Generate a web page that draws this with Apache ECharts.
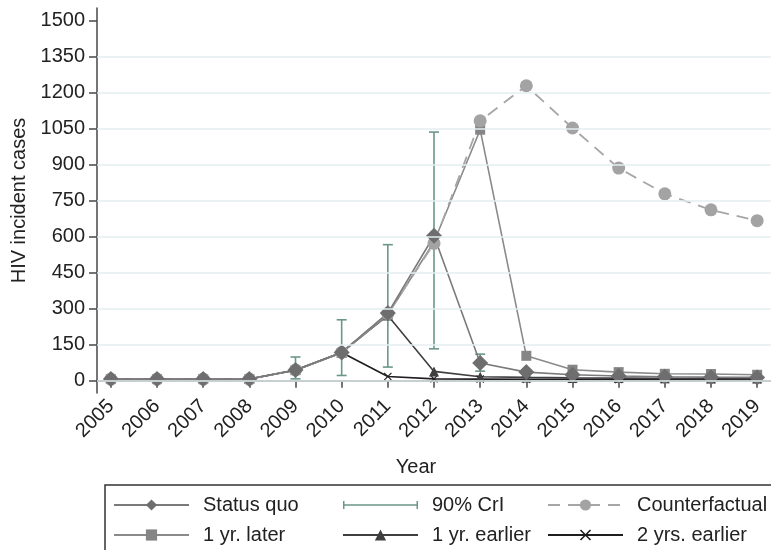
<!DOCTYPE html>
<html>
<head>
<meta charset="utf-8">
<script src="https://cdn.jsdelivr.net/npm/echarts@6/dist/echarts.min.js"></script>
<style>
html, body { margin: 0; padding: 0; background: #fff; }
#chart { width: 771px; height: 550px; }
</style>
</head>
<body>
<div id="chart"></div>
<script>
// data
var years = [2005, 2006, 2007, 2008, 2009, 2010, 2011, 2012, 2013, 2014, 2015, 2016, 2017, 2018, 2019];
var statusQuo      = [7, 7, 7, 7, 45, 118, 282, 604, 74, 36, 25, 20, 17, 15, 14];
var oneYrLater     = [7, 7, 7, 7, 44, 116, 276, 578, 1046, 104, 46, 36, 29, 28, 25];
var counterfactual = [7, 7, 7, 7, 45, 118, 280, 572, 1083, 1229, 1053, 886, 779, 712, 667];
var oneYrEarlier   = [7, 7, 7, 7, 45, 118, 272, 39, 17, 14, 12, 11, 10, 9, 9];
var twoYrsEarlier  = [7, 7, 7, 7, 44, 118, 18, 8, 7, 6, 6, 5, 5, 5, 5];

// 90% credible interval
var ciYears = [2009, 2010, 2011, 2012, 2013, 2014];
var ciLow   = [8, 22, 57, 133, 40, 15];
var ciHigh  = [99, 254, 567, 1036, 111, 45];

var yTicks = [0, 150, 300, 450, 600, 750, 900, 1050, 1200, 1350, 1500];
var gridVals = [0, 150, 300, 450, 600, 750, 900, 1050, 1200, 1350];

var font = '"Liberation Sans", Arial, sans-serif';
var ciColor = '#6b978a';
var axisColor = '#474747';

function pairs(vals) {
    return years.map(function (y, i) { return [y, vals[i]]; });
}

var myChart = echarts.init(document.getElementById('chart'));

var legendBase = {
    orient: 'vertical',
    top: 495,
    height: 80,
    padding: 0,
    itemWidth: 75,
    itemHeight: 14,
    itemGap: 10,
    textStyle: { fontSize: 20, fontFamily: font, color: '#222', padding: [0, 0, 0, 9], lineHeight: 20 }
};

// error bar icon: tiny corner dots keep the box 75x14 so the caps stay short
var ciIcon = 'path://M0,0h0.01v0.01h-0.01z M0,14h0.01v-0.01h-0.01z ' +
    'M0,3h1.5v8h-1.5z M0,6.25h75v1.5h-75z M73.5,3h1.5v8h-1.5z';

var option = {
    animation: false,
    textStyle: { fontFamily: font },
    grid: { left: 97, right: -12, top: 8, bottom: 157 },
    legend: [
        Object.assign({}, legendBase, { left: 113, data: ['Status quo', '1 yr. later'] }),
        Object.assign({}, legendBase, {
            left: 342,
            data: [{ name: '90% CrI', icon: ciIcon }, '1 yr. earlier']
        }),
        Object.assign({}, legendBase, { left: 547, data: ['Counterfactual', '2 yrs. earlier'] })
    ],
    graphic: [{
        type: 'rect',
        shape: { x: 105, y: 485, width: 700, height: 100 },
        style: { fill: 'none', stroke: '#333', lineWidth: 1.5 },
        silent: true
    }],
    xAxis: {
        type: 'value',
        min: 2004.7,
        max: 2019.3,
        name: 'Year',
        nameLocation: 'middle',
        nameGap: 64,
        nameTextStyle: { fontSize: 20, color: '#222', padding: [0, 36, 0, 0] },
        axisLine: { lineStyle: { color: axisColor, width: 1.5 } },
        axisTick: { customValues: years, length: 7, lineStyle: { color: axisColor, width: 1.5 } },
        axisLabel: {
            customValues: years,
            rotate: 45,
            fontSize: 20,
            color: '#222',
            margin: 10,
            formatter: function (v) { return String(v); }
        },
        splitLine: { show: false }
    },
    yAxis: {
        type: 'value',
        min: -51,
        max: 1553,
        name: 'HIV incident cases',
        nameLocation: 'middle',
        nameGap: 64,
        nameTextStyle: { fontSize: 20, color: '#222' },
        axisLine: { show: true, lineStyle: { color: axisColor, width: 1.5 } },
        axisTick: { show: true, customValues: yTicks, length: 8, lineStyle: { color: axisColor, width: 1.5 } },
        axisLabel: {
            customValues: yTicks,
            fontSize: 20,
            color: '#222',
            margin: 12,
            formatter: function (v) { return String(v); }
        },
        splitLine: { show: false }
    },
    series: [
        {
            name: '90% CrI',
            type: 'custom',
            z: 1,
            itemStyle: { color: ciColor },
            encode: { x: 0, y: [1, 2] },
            data: ciYears.map(function (y, i) { return [y, ciLow[i], ciHigh[i]]; }),
            renderItem: function (params, api) {
                var lo = api.coord([api.value(0), api.value(1)]);
                var hi = api.coord([api.value(0), api.value(2)]);
                var hw = 5;
                var st = { stroke: ciColor, lineWidth: 1.6 };
                return {
                    type: 'group',
                    children: [
                        { type: 'line', shape: { x1: lo[0], y1: lo[1], x2: hi[0], y2: hi[1] }, style: st },
                        { type: 'line', shape: { x1: lo[0] - hw, y1: lo[1], x2: lo[0] + hw, y2: lo[1] }, style: st },
                        { type: 'line', shape: { x1: hi[0] - hw, y1: hi[1], x2: hi[0] + hw, y2: hi[1] }, style: st }
                    ]
                };
            },
            markLine: {
                silent: true,
                symbol: 'none',
                label: { show: false },
                lineStyle: { color: '#e4eef0', width: 1.5, type: 'solid' },
                data: gridVals.map(function (v) { return { yAxis: v }; })
            }
        },
        {
            name: '2 yrs. earlier',
            type: 'line',
            z: 3,
            data: pairs(twoYrsEarlier),
            symbol: 'path://M0,1L1,0L5,4L9,0L10,1L6,5L10,9L9,10L5,6L1,10L0,9L4,5Z',
            symbolSize: 8,
            lineStyle: { color: '#1e1e1e', width: 1.6 },
            itemStyle: { color: '#1e1e1e' }
        },
        {
            name: '1 yr. earlier',
            type: 'line',
            z: 3,
            data: pairs(oneYrEarlier),
            symbol: 'triangle',
            symbolSize: 10,
            lineStyle: { color: '#3f3f3f', width: 1.6 },
            itemStyle: { color: '#3f3f3f' }
        },
        {
            name: '1 yr. later',
            type: 'line',
            z: 3,
            data: pairs(oneYrLater),
            symbol: 'rect',
            symbolSize: 10,
            lineStyle: { color: '#8a8a8a', width: 1.6 },
            itemStyle: { color: '#858585' }
        },
        {
            name: 'Counterfactual',
            type: 'line',
            z: 3,
            data: pairs(counterfactual),
            symbol: 'circle',
            symbolSize: 13,
            lineStyle: { color: '#a6a6a6', width: 1.8, type: [12, 8] },
            itemStyle: { color: '#a3a3a3' }
        },
        {
            name: 'Status quo',
            type: 'line',
            z: 3,
            data: pairs(statusQuo),
            symbol: 'diamond',
            symbolSize: 16,
            lineStyle: { color: '#7a7a7a', width: 1.6 },
            itemStyle: { color: '#6e6e6e' }
        }
    ]
};

myChart.setOption(option);
</script>
</body>
</html>
